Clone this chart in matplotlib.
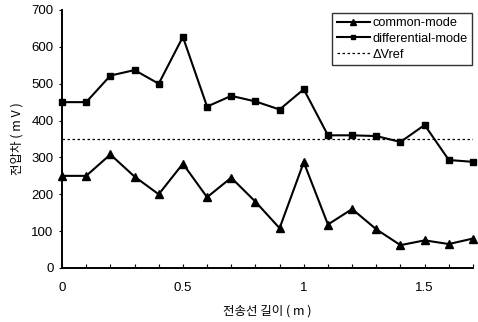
import matplotlib
matplotlib.use("Agg")
import matplotlib.pyplot as plt
from matplotlib.ticker import MultipleLocator, FixedLocator

plt.rcParams['font.family'] = ['Liberation Sans', 'Noto Sans CJK KR', 'DejaVu Sans']

length_m = [0.0, 0.1, 0.2, 0.3, 0.4, 0.5, 0.6, 0.7, 0.8, 0.9,
            1.0, 1.1, 1.2, 1.3, 1.4, 1.5, 1.6, 1.7]
common_mode = [250, 250, 308, 248, 200, 283, 192, 245, 180, 108,
               287, 118, 160, 105, 62, 75, 65, 80]
differential_mode = [450, 450, 522, 537, 500, 627, 438, 467, 452, 430,
                     485, 360, 360, 358, 342, 388, 293, 288]
delta_vref = 350

x_ticks = [0, 0.5, 1, 1.5]
x_tick_labels = ["0", "0.5", "1", "1.5"]

fig = plt.figure(figsize=(4.78, 3.22), dpi=100)
ax = fig.add_axes([62 / 478, (322 - 268) / 322, (473 - 62) / 478, (268 - 10) / 322])

ax.plot(length_m, common_mode, color='black', lw=1.5, marker='^', ms=5.5,
        clip_on=False, zorder=3, label='common-mode')
ax.plot(length_m, differential_mode, color='black', lw=1.5, marker='s', ms=5,
        clip_on=False, zorder=3, label='differential-mode')
ax.axhline(delta_vref, color='black', lw=0.9, ls=(0, (2, 2)), label='ΔVref')

ax.set_xlim(0, 1.7)
ax.set_ylim(0, 700)
ax.yaxis.set_major_locator(MultipleLocator(100))
ax.xaxis.set_major_locator(FixedLocator(x_ticks))
ax.set_xticklabels(x_tick_labels)
ax.xaxis.set_minor_locator(MultipleLocator(0.1))

for side in ('top', 'right'):
    ax.spines[side].set_visible(False)
for side in ('left', 'bottom'):
    ax.spines[side].set_linewidth(1.4)

ax.tick_params(axis='x', which='both', direction='in', length=3, width=0.8,
               labelsize=9.5, pad=10)
ax.tick_params(axis='y', which='major', direction='out', length=2, width=0.8,
               labelsize=9.5, pad=4)

ax.set_xlabel('전송선 길이 ( m )', fontsize=9, family=['Noto Sans CJK KR'], labelpad=8)
ax.set_ylabel('전압차 ( m V )', fontsize=9, family=['Noto Sans CJK KR'], labelpad=6)

leg = ax.legend(loc='upper right', bbox_to_anchor=(0.998, 0.99), fontsize=9.2,
                frameon=True, fancybox=False, edgecolor='black',
                handlelength=2.6, handletextpad=0.2, borderpad=0.35,
                labelspacing=0.3, borderaxespad=0.0, markerscale=0.7)
leg.get_frame().set_linewidth(1.0)

fig.savefig('out.png', dpi=100)
